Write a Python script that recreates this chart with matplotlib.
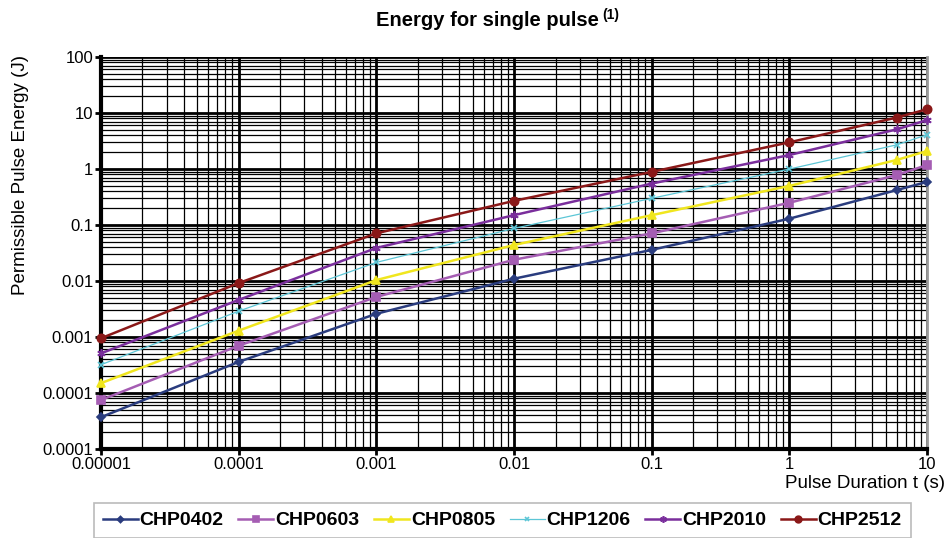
import matplotlib.pyplot as plt
import numpy as np
from matplotlib.ticker import LogLocator, FixedLocator, FixedFormatter, NullFormatter

plt.rcParams['font.family'] = ['Liberation Sans', 'DejaVu Sans']

# pulse duration (s)
t = [1e-5, 1e-4, 1e-3, 1e-2, 1e-1, 1, 6, 10]

# permissible pulse energy (J)
chp0402 = [3.7e-5, 3.6e-4, 2.6e-3, 0.011, 0.036, 0.13, 0.42, 0.59]
chp0603 = [7.5e-5, 7.0e-4, 5.2e-3, 0.024, 0.071, 0.25, 0.78, 1.18]
chp0805 = [1.5e-4, 1.3e-3, 0.0104, 0.044, 0.15, 0.50, 1.45, 2.1]
chp1206 = [3.2e-4, 2.9e-3, 0.0215, 0.087, 0.30, 1.0, 2.7, 4.1]
chp2010 = [5.1e-4, 4.6e-3, 0.039, 0.15, 0.55, 1.78, 5.1, 7.5]
chp2512 = [9.5e-4, 9.2e-3, 0.071, 0.27, 0.89, 3.0, 8.3, 11.7]

names = ['CHP0402', 'CHP0603', 'CHP0805', 'CHP1206', 'CHP2010', 'CHP2512']
series = [chp0402, chp0603, chp0805, chp1206, chp2010, chp2512]
colors = ['#2A3C7E', '#A55DB3', '#F0E61E', '#5CC6D6', '#7A2E9C', '#8A1818']
markers = ['D', 's', '^', 'x', (6, 2, 0), 'o']
msizes = [4, 6, 6, 4, 6, 6]
lws = [1.8, 1.8, 1.8, 0.9, 1.8, 1.8]

xticks = [1e-5, 1e-4, 1e-3, 1e-2, 1e-1, 1, 10]
xlabels = ['0.00001', '0.0001', '0.001', '0.01', '0.1', '1', '10']
yticks = [1e-5, 1e-4, 1e-3, 1e-2, 1e-1, 1, 10, 100]
ylabels = ['0.0001', '0.0001', '0.001', '0.01', '0.1', '1', '10', '100']

fig = plt.figure(figsize=(9.48, 5.38), dpi=100)
ax = fig.add_axes([0.1065, 0.1654, 0.8715, 0.7286])

for y, n, c, m, ms, lw in zip(series, names, colors, markers, msizes, lws):
    ax.plot(t, y, color=c, marker=m, markersize=ms, lw=lw, label=n,
            markeredgecolor=c, markeredgewidth=1.2, zorder=3, clip_on=False)

ax.set_xscale('log')
ax.set_yscale('log')
ax.set_xlim(1e-5, 10)
ax.set_ylim(1e-5, 100)

ax.xaxis.set_major_locator(FixedLocator(xticks))
ax.xaxis.set_major_formatter(FixedFormatter(xlabels))
ax.yaxis.set_major_locator(FixedLocator(yticks))
ax.yaxis.set_major_formatter(FixedFormatter(ylabels))
ax.xaxis.set_minor_locator(LogLocator(base=10, subs=np.arange(2, 10), numticks=20))
ax.yaxis.set_minor_locator(LogLocator(base=10, subs=np.arange(2, 10), numticks=20))
ax.xaxis.set_minor_formatter(NullFormatter())
ax.yaxis.set_minor_formatter(NullFormatter())

ax.grid(which='major', color='black', lw=2.0)
ax.grid(which='minor', color='black', lw=0.9)
ax.tick_params(which='major', direction='out', length=4, width=2, labelsize=12, pad=1.5)
ax.tick_params(which='minor', length=0)

for s in ['left', 'bottom']:
    ax.spines[s].set_linewidth(3)
ax.spines['top'].set_visible(False)
ax.spines['right'].set_color('#999999')
ax.spines['right'].set_linewidth(2)

ax.set_ylabel('Permissible Pulse Energy (J)', fontsize=13.5)
ax.yaxis.set_label_coords(-0.087, 0.70)
fig.text(0.997, 0.102, 'Pulse Duration t (s)', ha='right', va='center', fontsize=13.5)

fig.text(0.632, 0.962, 'Energy for single pulse', ha='right', va='center',
         fontsize=14.5, fontweight='bold')
fig.text(0.635, 0.972, '(1)', ha='left', va='center', fontsize=10, fontweight='bold')

leg = fig.legend(loc='upper left', bbox_to_anchor=(94 / 948, 1 - 503 / 538), ncol=6,
                 frameon=True, fancybox=False, edgecolor='#aaaaaa',
                 prop={'weight': 'bold', 'size': 14},
                 handlelength=1.8, handletextpad=0.1, columnspacing=0.75,
                 borderpad=0.45, borderaxespad=0, markerscale=0.8)
leg.get_frame().set_linewidth(1.2)

fig.savefig('out.png', dpi=100)
